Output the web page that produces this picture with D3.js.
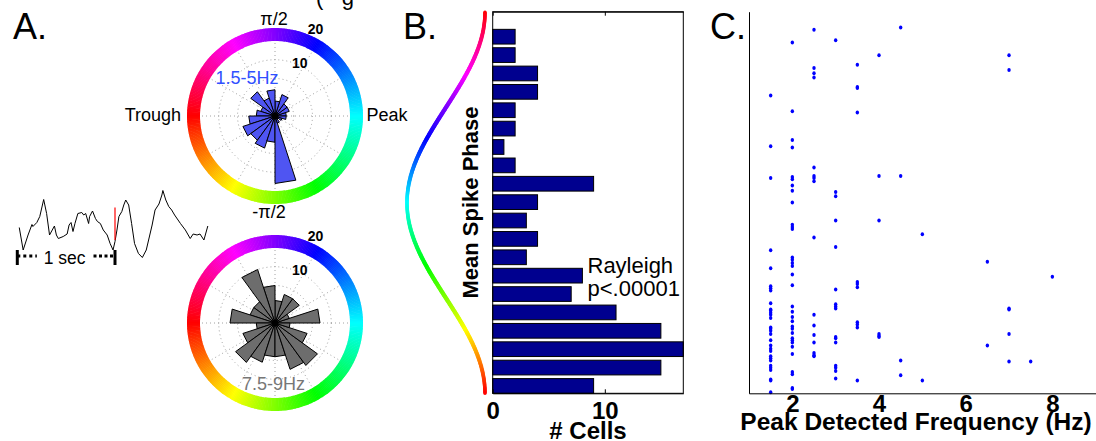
<!DOCTYPE html>
<html>
<head>
<meta charset="utf-8">
<script src="https://cdn.jsdelivr.net/npm/d3@7"></script>
<style>
  body { margin: 0; background: #fff; }
  svg { display: block; font-family: "Liberation Sans", Arial, Helvetica, sans-serif; }
</style>
</head>
<body>
<svg id="fig" width="1096" height="441"></svg>
<script>
// ---------- data ----------
// rose histograms, 20 bins of 18 deg, counter-clockwise from 0 (peak)
var roseLowCounts  = [3, 4, 4, 6, 4, 7, 5, 8, 4, 5, 7, 9, 8, 9, 7, 18, 2, 1, 2, 3];
var roseHighCounts = [12, 4, 8, 8, 6, 10, 15, 7, 7, 12, 5, 9, 13, 11, 9, 9, 13, 14, 9, 4];
var roseTicks = [10, 20];

// example LFP trace (seconds, mV) and spike time
var traceTime = [0.02, 0.06, 0.11, 0.15, 0.16, 0.20, 0.23, 0.27, 0.30, 0.33, 0.38, 0.40, 0.42, 0.47,
  0.51, 0.53, 0.55, 0.57, 0.59, 0.62, 0.66, 0.68, 0.70, 0.73, 0.74, 0.77, 0.80, 0.82, 0.85, 0.88,
  0.92, 0.95, 0.98, 1.00, 1.02, 1.04, 1.07, 1.09, 1.11, 1.14, 1.17, 1.20, 1.24, 1.28, 1.32, 1.38,
  1.41, 1.45, 1.48, 1.49, 1.52, 1.55, 1.58, 1.61, 1.67, 1.72, 1.77, 1.80, 1.84, 1.87, 1.91, 1.95];
var traceMv = [0.25, -0.2, 0.1, 0.31, 0.27, 0.35, 0.47, 0.81, 0.53, 0.1, 0.28, 0.1, 0.03, 0.07,
  0.12, 0.3, 0.35, 0.17, 0.33, 0.53, 0.55, 0.5, 0.53, 0.33, 0.47, 0.58, 0.43, 0.37, 0.33, 0.2,
  0.1, -0.07, -0.2, -0.03, 0.2, 0.47, 0.57, 0.7, 0.8, 0.7, 0.33, -0.07, -0.27, -0.35, -0.2, 0.3,
  0.6, 0.72, 0.9, 0.99, 0.8, 0.67, 0.6, 0.5, 0.33, 0.2, 0.03, 0.12, 0.1, 0.12, 0, 0.28];
var spikeTime = 1.0;

// panel B: cells per mean-phase bin, top (pi) to bottom (-pi)
var phaseBinCells = [2, 2, 4, 4, 2, 2, 1, 2, 9, 4, 3, 4, 3, 8, 7, 11, 15, 17, 15, 9];
var cellTicks = [0, 10];

// panel C: mean phase (deg) of each cell grouped by peak frequency (Hz)
var scatterFreqs = [1.5, 2, 2.5, 3, 3.5, 4, 4.5, 5, 6.5, 7, 7.5, 8];
var scatterPhases = [
  [101, 53, 23, -45, -62, -79, -81, -83, -95, -101, -102, -104, -106, -109, -118, -119, -121, -124,
   -130, -135, -138, -140, -145, -147, -149, -154, -156, -158, -167, -168, -179],
  [151, 86, 59, 52, 24, 22, 16, 11, 0, -21, -23, -25, -52, -54, -57, -60, -68, -78, -98, -103, -108,
   -112, -117, -119, -123, -128, -130, -132, -136, -143, -160, -162, -175, -176],
  [163, 127, 122, 118, 33, 25, 23, 20, -33, -106, -116, -125, -132, -142, -144, -145],
  [153, 10, 6, -17, -42, -82, -96, -98, -100, -127, -128, -132, -154, -156, -159, -166],
  [130, 109, 108, 85, -75, -77, -80, -113, -115, -118, -168],
  [139, 25, -17, -124, -126, -127],
  [165, 25, -149, -163],
  [-30, -168],
  [-56, -135],
  [139, 125, -100, -101, -124, -150],
  [-150],
  [-70]
];
var freqTicks = [2, 4, 6, 8];

var svg = d3.select("#fig");
var rad = Math.PI / 180;

function hueOf(deg) {
  return d3.hsl(((180 + deg) % 360 + 360) % 360, 1, 0.5).toString();
}

// panel letters
svg.append("text").attr("x", 13).attr("y", 39).attr("font-size", 36).text("A.");
svg.append("text").attr("x", 403).attr("y", 39).attr("font-size", 36).text("B.");
svg.append("text").attr("x", 710).attr("y", 39).attr("font-size", 36).text("C.");
// bit of a title cut off by the top edge
svg.append("text").attr("x", 316).attr("y", 5).attr("font-size", 22)
  .text("(\u00a0\u00a0\u00a0g");

// ---------- A: trace ----------
var tx = d3.scaleLinear().domain([0, 1]).range([17.3, 115]);
var ty = d3.scaleLinear().domain([0, 1]).range([240, 190]);

svg.append("path")
  .datum(d3.zip(traceTime, traceMv))
  .attr("d", d3.line().x(function (d) { return tx(d[0]); }).y(function (d) { return ty(d[1]); }))
  .attr("fill", "none").attr("stroke", "#000").attr("stroke-width", 1);

svg.append("line")
  .attr("x1", tx(spikeTime)).attr("x2", tx(spikeTime))
  .attr("y1", ty(0.65)).attr("y2", ty(0))
  .attr("stroke", "#f00").attr("stroke-width", 1.2);

// 1 sec scale bar
[0, 1].forEach(function (t) {
  svg.append("line").attr("x1", tx(t)).attr("x2", tx(t))
    .attr("y1", ty(-0.2)).attr("y2", ty(-0.5))
    .attr("stroke", "#000").attr("stroke-width", 3);
});
svg.append("line").attr("x1", tx(0)).attr("x2", tx(0.2)).attr("y1", ty(-0.32)).attr("y2", ty(-0.32))
  .attr("stroke", "#000").attr("stroke-width", 3).attr("stroke-dasharray", "3,3");
svg.append("line").attr("x1", tx(0.78)).attr("x2", tx(1)).attr("y1", ty(-0.32)).attr("y2", ty(-0.32))
  .attr("stroke", "#000").attr("stroke-width", 3).attr("stroke-dasharray", "3,2.5");
svg.append("text").attr("x", tx(0.485)).attr("y", ty(-0.47)).attr("font-size", 17.5)
  .attr("text-anchor", "middle").text("1 sec");

// ---------- A: rose plots ----------
function drawRose(cx, cy, counts, fill) {
  var r = d3.scaleLinear().domain([0, 20]).range([0, 75]);
  var g = svg.append("g").attr("transform", "translate(" + cx + "," + cy + ")");
  var step = 2 * Math.PI / counts.length;
  function pt(a, v) { return [r(v) * Math.cos(a), -r(v) * Math.sin(a)]; }

  g.selectAll(".grid").data([5, 10, 15]).enter().append("circle")
    .attr("r", function (d) { return r(d); })
    .attr("fill", "none").attr("stroke", "#8a8a8a").attr("stroke-width", 0.8)
    .attr("stroke-dasharray", "1,3");
  g.selectAll(".spoke").data(d3.range(0, 360, 30)).enter().append("line")
    .attr("x1", 0).attr("y1", 0)
    .attr("x2", function (d) { return r(20) * Math.cos(d * rad); })
    .attr("y2", function (d) { return -r(20) * Math.sin(d * rad); })
    .attr("stroke", "#8a8a8a").attr("stroke-width", 0.8).attr("stroke-dasharray", "1,3");

  g.selectAll(".petal").data(counts).enter().append("path")
    .attr("d", function (d, i) {
      return "M0,0L" + pt(i * step, d) + "L" + pt((i + 1) * step, d) + "Z";
    })
    .attr("fill", fill).attr("stroke", "#000").attr("stroke-width", 1)
    .attr("stroke-linejoin", "miter");
  g.append("circle").attr("r", 3.5).attr("fill", "#000");

  var arc = d3.arc().innerRadius(75).outerRadius(88);
  g.selectAll(".ring").data(d3.range(0, 360, 1)).enter().append("path")
    .attr("d", function (d) {
      return arc({ startAngle: (90 - d - 0.7) * rad, endAngle: (90 - d + 0.7) * rad });
    })
    .attr("fill", function (d) { return hueOf(d); });

  g.selectAll(".rlab").data(roseTicks).enter().append("text")
    .attr("x", function (d) { return (r(d) + 21) * Math.cos(65 * rad); })
    .attr("y", function (d) { return -(r(d) + 21) * Math.sin(65 * rad); })
    .attr("dy", "0.35em").attr("text-anchor", "middle")
    .attr("font-size", 14).attr("font-weight", "bold")
    .text(function (d) { return d; });
  return g;
}

drawRose(275, 116, roseLowCounts, "#4f55f2");
drawRose(275, 323, roseHighCounts, "#6d6d6d");

svg.append("text").attr("x", 215.5).attr("y", 84).attr("font-size", 18)
  .attr("fill", "#3050ff").text("1.5-5Hz");
svg.append("text").attr("x", 273.5).attr("y", 390).attr("font-size", 18)
  .attr("text-anchor", "middle").attr("fill", "#777").text("7.5-9Hz");
svg.append("text").attr("x", 274).attr("y", 25).attr("font-size", 18)
  .attr("text-anchor", "middle").text("π/2");
svg.append("text").attr("x", 269).attr("y", 218).attr("font-size", 18)
  .attr("text-anchor", "middle").text("-π/2");
svg.append("text").attr("x", 181).attr("y", 121).attr("font-size", 18)
  .attr("text-anchor", "end").text("Trough");
svg.append("text").attr("x", 366.5).attr("y", 121).attr("font-size", 18).text("Peak");

// ---------- B: phase histogram ----------
var bx = d3.scaleLinear().domain([0, 17]).range([492.7, 683.3]);
var binY = d3.scaleLinear().domain([-0.36, 20.4]).range([11.7, 393.3]);
var phaseY = d3.scaleLinear().domain([180, -180]).range([11.7, 393.3]);
var pitch = binY(1) - binY(0);

// colour-coded waveform beside the axis
var waveX = d3.scaleLinear().domain([-1, 1]).range([485, 407]);
var curvePhases = d3.range(179, -181, -1);
svg.selectAll(".wave").data(curvePhases).enter().append("line")
  .attr("x1", function (d) { return waveX(Math.cos((d + 1) * rad)); })
  .attr("y1", function (d) { return phaseY(d + 1) + 1; })
  .attr("x2", function (d) { return waveX(Math.cos(d * rad)); })
  .attr("y2", function (d) { return phaseY(d) - 0.5; })
  .attr("stroke", function (d) { return hueOf(d + 0.5); })
  .attr("stroke-width", 3.6).attr("stroke-linecap", "round");

svg.selectAll(".cellbar").data(phaseBinCells).enter().append("rect")
  .attr("x", bx(0))
  .attr("y", function (d, i) { return binY(i + 1) - pitch * 0.4; })
  .attr("width", function (d) { return bx(d) - bx(0); })
  .attr("height", pitch * 0.8)
  .attr("fill", "#00008f").attr("stroke", "#000").attr("stroke-width", 1);

svg.append("rect").attr("x", bx(0)).attr("y", binY(-0.36))
  .attr("width", bx(17) - bx(0)).attr("height", binY(20.4) - binY(-0.36))
  .attr("fill", "none").attr("stroke", "#000").attr("stroke-width", 1);

var bAxis = svg.append("g").attr("transform", "translate(0," + binY(20.4) + ")")
  .call(d3.axisBottom(bx).tickValues(cellTicks).tickSize(-4).tickSizeOuter(0).tickPadding(9));
bAxis.selectAll("text").attr("font-size", 24).attr("font-weight", "bold")
  .attr("font-family", "Liberation Sans, Arial, sans-serif").attr("fill", "#000");
bAxis.selectAll("line").attr("stroke", "#000");
bAxis.select(".domain").attr("stroke", "#000");
var bTop = svg.append("g").attr("transform", "translate(0," + binY(-0.36) + ")")
  .call(d3.axisTop(bx).tickValues(cellTicks).tickSize(-4).tickSizeOuter(0).tickFormat(""));
bTop.selectAll("line").attr("stroke", "#000");
bTop.select(".domain").attr("stroke", "#000");

svg.append("text").attr("transform", "translate(477.5,202.5) rotate(-90)")
  .attr("text-anchor", "middle").attr("font-size", 22).attr("font-weight", "bold")
  .text("Mean Spike Phase");
svg.append("text").attr("x", 588).attr("y", 439).attr("text-anchor", "middle")
  .attr("font-size", 24).attr("font-weight", "bold").text("# Cells");
svg.append("text").attr("x", 587.5).attr("y", 273).attr("font-size", 22).text("Rayleigh");
svg.append("text").attr("x", 587.5).attr("y", 295.5).attr("font-size", 22).text("p<.00001");

// ---------- C: phase vs frequency ----------
var fx = d3.scaleLinear().domain([1, 9]).range([749, 1095.7]);
var points = [];
scatterFreqs.forEach(function (f, i) {
  scatterPhases[i].forEach(function (p) { points.push({ f: f, p: p }); });
});

svg.selectAll(".cell").data(points).enter().append("ellipse")
  .attr("cx", function (d) { return fx(d.f); })
  .attr("cy", function (d) { return phaseY(d.p); })
  .attr("rx", 1.7).attr("ry", 2)
  .attr("fill", "#0000ff");

var cAxis = svg.append("g").attr("transform", "translate(0," + phaseY(-180) + ")")
  .call(d3.axisBottom(fx).tickValues(freqTicks).tickSize(0).tickSizeOuter(0).tickPadding(2));
cAxis.selectAll("text").attr("font-size", 24).attr("font-weight", "bold")
  .attr("font-family", "Liberation Sans, Arial, sans-serif").attr("fill", "#000");
cAxis.select(".domain").attr("stroke", "#000");
var cLeft = svg.append("g").attr("transform", "translate(" + fx(1) + ",0)")
  .call(d3.axisLeft(phaseY).tickValues([]).tickSize(0).tickSizeOuter(0));
cLeft.select(".domain").attr("stroke", "#000");

svg.append("text").attr("x", 916).attr("y", 430).attr("text-anchor", "middle")
  .attr("font-size", 24.5).attr("font-weight", "bold").text("Peak Detected Frequency (Hz)");
</script>
</body>
</html>
